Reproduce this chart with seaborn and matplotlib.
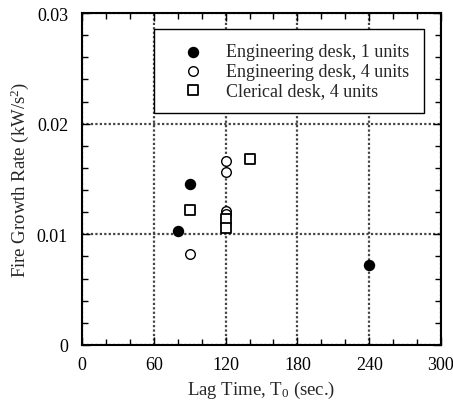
import matplotlib
matplotlib.use("Agg")
import matplotlib.pyplot as plt
import seaborn as sns
import pandas as pd
from matplotlib.ticker import MultipleLocator

# Data
eng1_x = [80, 90, 240]
eng1_y = [0.0103, 0.0145, 0.0072]
eng4_x = [90, 120, 120, 120, 120]
eng4_y = [0.0082, 0.0166, 0.0156, 0.0121, 0.0118]
cler_x = [90, 140, 120, 120]
cler_y = [0.0122, 0.0168, 0.0114, 0.0106]
labels = ["Engineering desk, 1 units", "Engineering desk, 4 units", "Clerical desk, 4 units"]

sns.set_theme(style="ticks")
plt.rcParams['font.family'] = ['Liberation Serif', 'DejaVu Serif']
plt.rcParams['mathtext.fontset'] = 'custom'
plt.rcParams['mathtext.rm'] = 'Liberation Serif'
plt.rcParams['mathtext.it'] = 'Liberation Serif'

FS = 13.5
fig = plt.figure(figsize=(4.53, 4.06), dpi=100)
ax = fig.add_axes([0.181, 0.148, 0.7925, 0.8175])

df = pd.concat([
    pd.DataFrame({"x": eng1_x, "y": eng1_y, "s": labels[0]}),
    pd.DataFrame({"x": eng4_x, "y": eng4_y, "s": labels[1]}),
    pd.DataFrame({"x": cler_x, "y": cler_y, "s": labels[2]}),
])

sns.scatterplot(data=df[df.s == labels[0]], x="x", y="y", ax=ax, marker="o", s=52,
                color="black", edgecolor="black", linewidth=1, label=labels[0], zorder=3)
sns.scatterplot(data=df[df.s == labels[1]], x="x", y="y", ax=ax, marker="o", s=48,
                facecolor="white", edgecolor="black", linewidth=1, label=labels[1], zorder=3)
sns.scatterplot(data=df[df.s == labels[2]], x="x", y="y", ax=ax, marker="s", s=45,
                facecolor="white", edgecolor="black", linewidth=1.3, label=labels[2], zorder=3)

ax.set_xlim(0, 300)
ax.set_ylim(0, 0.03)
ax.xaxis.set_major_locator(MultipleLocator(60))
ax.xaxis.set_minor_locator(MultipleLocator(20))
ax.yaxis.set_major_locator(MultipleLocator(0.01))
ax.yaxis.set_minor_locator(MultipleLocator(0.002))
ax.yaxis.set_major_formatter(matplotlib.ticker.FuncFormatter(lambda v, p: "0" if abs(v) < 1e-9 else f"{v:.2f}"))

ax.tick_params(which="both", direction="in", top=True, right=True, colors="black", labelsize=13)
ax.tick_params(which="major", length=6, width=1)
ax.tick_params(axis="x", which="major", pad=8)
ax.tick_params(axis="y", which="major", pad=10)
ax.tick_params(which="minor", length=4, width=1)
for sp in ax.spines.values():
    sp.set_linewidth(1.5)
    sp.set_color("black")

ax.grid(True, which="major", color="#444444", linestyle=(0, (1, 1)), linewidth=1.6)
ax.set_axisbelow(True)

ax.set_xlabel("Lag Time, T$_0$ (sec.)", fontsize=FS, labelpad=4)
ax.set_ylabel("Fire Growth Rate (kW/s$^{2}$)", fontsize=FS, labelpad=4)

leg = ax.legend(loc="upper right", bbox_to_anchor=(0.9526, 0.9518), fontsize=13, frameon=True,
                fancybox=False, edgecolor="black", framealpha=1, borderpad=0.8,
                labelspacing=0.12, handletextpad=0.5, handlelength=2.7,
                borderaxespad=0)
leg.get_frame().set_linewidth(1)

fig.savefig("out.png", dpi=100)
